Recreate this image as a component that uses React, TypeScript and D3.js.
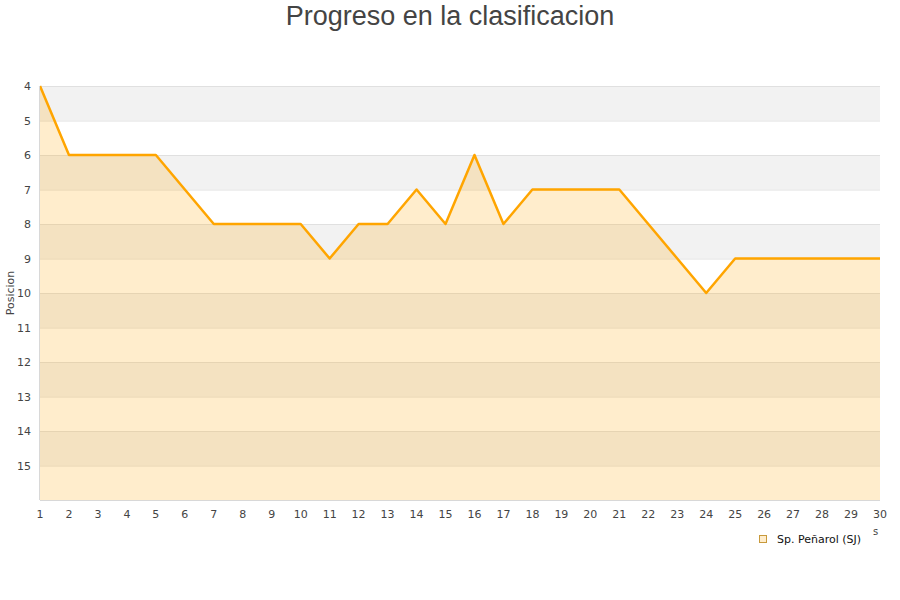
import { useEffect, useRef } from 'react'
import * as d3 from 'd3'

const rounds = d3.range(1, 31)
const positions = [4, 6, 6, 6, 6, 7, 8, 8, 8, 8, 9, 8, 8, 7, 8, 6, 8, 7, 7, 7, 7, 8, 9, 10, 9, 9, 9, 9, 9, 9]
const yTicks = d3.range(4, 16)
const teamName = 'Sp. Peñarol (SJ)'

const W = 900
const H = 600
const M = { left: 40, right: 880, top: 86, bottom: 500 }

export default function App() {
  const ref = useRef<SVGSVGElement>(null)

  useEffect(() => {
    if (!ref.current) return
    const svg = d3.select(ref.current)
    svg.selectAll('*').remove()

    const x = d3.scaleLinear().domain([1, 30]).range([M.left, M.right])
    const y = d3.scaleLinear().domain([4, 16]).range([M.top, M.bottom])

    // alternating bands
    d3.range(4, 16).forEach((v, i) => {
      svg
        .append('rect')
        .attr('x', M.left)
        .attr('y', y(v))
        .attr('width', M.right - M.left)
        .attr('height', y(v + 1) - y(v))
        .attr('fill', i % 2 === 0 ? '#f2f2f2' : '#ffffff')
    })

    // grid lines
    svg
      .selectAll('line.grid')
      .data(yTicks.concat([16]))
      .join('line')
      .attr('class', 'grid')
      .attr('x1', M.left)
      .attr('x2', M.right)
      .attr('y1', (d) => y(d) + 0.5)
      .attr('y2', (d) => y(d) + 0.5)
      .attr('stroke', '#e0e0e0')

    const pts = rounds.map((r, i) => [r, positions[i]] as [number, number])

    const area = d3
      .area<[number, number]>()
      .x((d) => x(d[0]))
      .y0(y(16))
      .y1((d) => y(d[1]))
    svg.append('path').attr('d', area(pts)).attr('fill', 'rgba(255,165,0,0.2)')

    const line = d3
      .line<[number, number]>()
      .x((d) => x(d[0]))
      .y((d) => y(d[1]))
    svg
      .append('path')
      .attr('d', line(pts))
      .attr('fill', 'none')
      .attr('stroke', '#ffa500')
      .attr('stroke-width', 2.5)
      .attr('stroke-linejoin', 'round')

    // axis lines
    svg
      .append('line')
      .attr('x1', M.left - 0.5)
      .attr('x2', M.left - 0.5)
      .attr('y1', M.top)
      .attr('y2', M.bottom)
      .attr('stroke', '#d8d8d8')
    svg
      .append('line')
      .attr('x1', M.left)
      .attr('x2', M.right)
      .attr('y1', M.bottom + 0.5)
      .attr('y2', M.bottom + 0.5)
      .attr('stroke', '#d8d8d8')

    const font = 'DejaVu Sans, sans-serif'

    svg
      .selectAll('text.ytick')
      .data(yTicks)
      .join('text')
      .attr('class', 'ytick')
      .attr('x', 31)
      .attr('y', (d) => y(d) + 4)
      .attr('text-anchor', 'end')
      .attr('font-family', font)
      .attr('font-size', 11)
      .attr('fill', '#444')
      .text((d) => d)

    svg
      .selectAll('text.xtick')
      .data(rounds)
      .join('text')
      .attr('class', 'xtick')
      .attr('x', (d) => x(d))
      .attr('y', 518)
      .attr('text-anchor', 'middle')
      .attr('font-family', font)
      .attr('font-size', 11)
      .attr('fill', '#444')
      .text((d) => d)

    svg
      .append('text')
      .attr('transform', `translate(14,${(M.top + M.bottom) / 2}) rotate(-90)`)
      .attr('text-anchor', 'middle')
      .attr('font-family', font)
      .attr('font-size', 11)
      .attr('fill', '#444')
      .text('Posicion')

    svg
      .append('text')
      .attr('x', 873)
      .attr('y', 535)
      .attr('font-family', font)
      .attr('font-size', 10)
      .attr('fill', '#444')
      .text('s')

    svg
      .append('text')
      .attr('x', W / 2)
      .attr('y', 25)
      .attr('text-anchor', 'middle')
      .attr('font-family', 'Liberation Sans, Arial, sans-serif')
      .attr('font-size', 27)
      .attr('fill', '#444')
      .text('Progreso en la clasificacion')

    // legend
    svg
      .append('rect')
      .attr('x', 759.5)
      .attr('y', 535.5)
      .attr('width', 7)
      .attr('height', 7)
      .attr('fill', '#ffedcc')
      .attr('stroke', '#c89a3c')
    svg
      .append('text')
      .attr('x', 777)
      .attr('y', 543)
      .attr('font-family', font)
      .attr('font-size', 11)
      .attr('fill', '#111')
      .text(teamName)
  }, [])

  return (
    <svg
      ref={ref}
      width={W}
      height={H}
      style={{ position: 'absolute', left: 0, top: 0, background: '#fff' }}
    />
  )
}
